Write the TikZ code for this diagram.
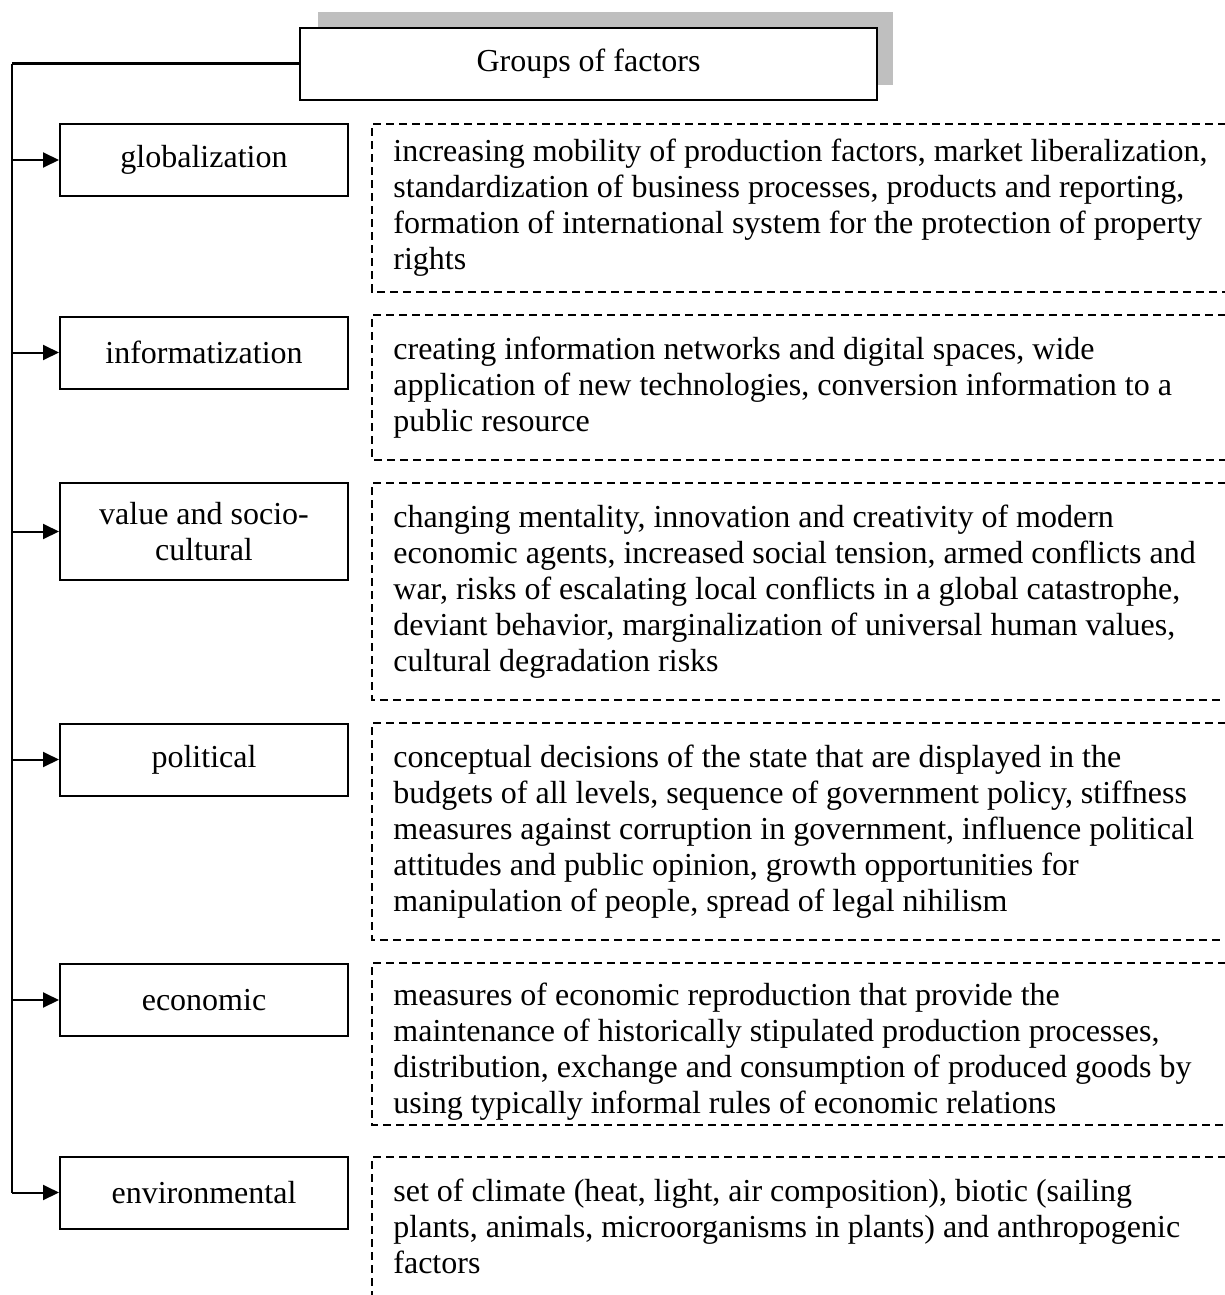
\documentclass[tikz,border=0pt]{standalone}
\usepackage{fontspec}
\setmainfont{Liberation Serif}
\usetikzlibrary{arrows.meta, positioning}

\tikzset{
	factor/.style={draw, line width=1pt, minimum width=144pt, minimum height=36pt, align=center, inner sep=2pt},
	area/.style={anchor=north west, minimum width=426.5pt, minimum height=#1, inner sep=0pt},
	desc/.style={anchor=west, align=left, inner sep=0pt},
	frame/.style={line width=0.8pt, dash pattern=on 4pt off 2.5pt},
	arr/.style={line width=1pt, -{Triangle[length=8pt,width=7.5pt]}}
}

\begin{document}
\begin{tikzpicture}[x=0.5pt, y=-0.5pt, font=\fontsize{16}{18}\selectfont]
		\useasboundingbox (0,0) rectangle (1225,1295);
		
		% 标题框和阴影
		\fill[black!25] (318,12) rectangle (893,85);
		\node[draw, fill=white, line width=1.3pt, minimum width=288.5pt, minimum height=36pt] (groups) at (588.5,64) {Groups of factors};
		
		% 因素组
		\node[factor] (glob)  at (204,160)    {globalization};
		\node[factor] (info)  at (204,352.5)  {informatization};
		\node[factor, minimum height=48.5pt] (value) at (204,531.5) {value and socio-\\cultural};
		\node[factor] (polit) at (204,759.5)  {political};
		\node[factor] (econ)  at (204,1000)   {economic};
		\node[factor] (env)   at (204,1192.5) {environmental};
		
		% 主干和箭头
		\coordinate (trunk) at (12,1192.5);
		\coordinate (corner) at (groups.west -| trunk);
		\draw[line width=1.5pt] (groups.west) -- (corner);
		\draw[line width=1pt] (corner) -- (trunk);
		\draw[arr] (trunk) -- (env.west);
		\draw[arr] (glob.west -| trunk)  -- (glob.west);
		\draw[arr] (info.west -| trunk)  -- (info.west);
		\draw[arr] (value.west -| trunk) -- (value.west);
		\draw[arr] (polit.west -| trunk) -- (polit.west);
		\draw[arr] (econ.west -| trunk)  -- (econ.west);
		
		% 说明区域
		\node[area=83.5pt] (aglob)  at (372,124)  {};
		\node[area=72pt]   (ainfo)  at (372,315)  {};
		\node[area=108pt]  (avalue) at (372,483)  {};
		\node[area=108pt]  (apolit) at (372,723)  {};
		\node[area=80.5pt] (aecon)  at (372,963)  {};
		\node[area=69pt]   (aenv)   at (372,1157) {};
		
		% 说明文字
		\node[desc, right=10.5pt of aglob.west] (dglob) {increasing mobility of production factors, market liberalization,\\ standardization of business processes, products and reporting,\\ formation of international system for the protection of property\\ rights};
		\node[desc, right=10.5pt of ainfo.west] (dinfo) {creating information networks and digital spaces, wide\\ application of new technologies, conversion information to a\\ public resource};
		\node[desc, right=10.5pt of avalue.west] (dvalue) {changing mentality, innovation and creativity of modern\\ economic agents, increased social tension, armed conflicts and\\ war, risks of escalating local conflicts in a global catastrophe,\\ deviant behavior, marginalization of universal human values,\\ cultural degradation risks};
		\node[desc, right=10.5pt of apolit.west] (dpolit) {conceptual decisions of the state that are displayed in the\\ budgets of all levels, sequence of government policy, stiffness\\ measures against corruption in government, influence political\\ attitudes and public opinion, growth opportunities for\\ manipulation of people, spread of legal nihilism};
		\node[desc, right=10.5pt of aecon.west, yshift=-4pt] (decon) {measures of economic reproduction that provide the\\ maintenance of historically stipulated production processes,\\ distribution, exchange and consumption of produced goods by\\ using typically informal rules of economic relations};
		\node[desc, right=10.5pt of aenv.west] (denv) {set of climate (heat, light, air composition), biotic (sailing\\ plants, animals, microorganisms in plants) and anthropogenic\\ factors};
		
		% 虚线框
		\draw[frame] (aglob.north east)  -- (aglob.north west)  -- (aglob.south west)  -- (aglob.south east);
		\draw[frame] (ainfo.north east)  -- (ainfo.north west)  -- (ainfo.south west)  -- (ainfo.south east);
		\draw[frame] (avalue.north east) -- (avalue.north west) -- (avalue.south west) -- (avalue.south east);
		\draw[frame] (apolit.north east) -- (apolit.north west) -- (apolit.south west) -- (apolit.south east);
		\draw[frame] (aecon.north east)  -- (aecon.north west)  -- (aecon.south west)  -- (aecon.south east);
		\draw[frame] (aenv.north east)   -- (aenv.north west)   -- (aenv.south west);
	\end{tikzpicture}
\end{document}
